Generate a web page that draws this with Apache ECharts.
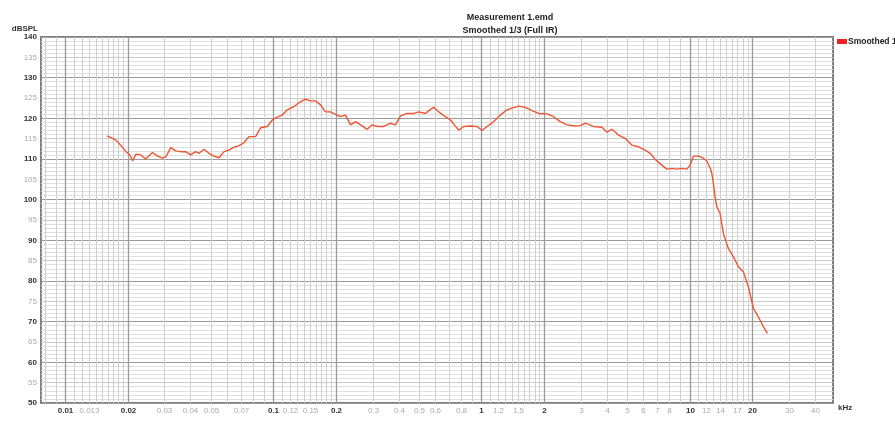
<!DOCTYPE html>
<html><head><meta charset="utf-8">
<script src="https://cdn.jsdelivr.net/npm/echarts@6/dist/echarts.min.js"></script>
<style>html,body{margin:0;padding:0;background:#fff}#c{width:895px;height:421px}</style>
</head><body><div id="c"></div>
<script>
// Frequencies in kHz
const freqs = [0.0159,0.0175,0.0185,0.0196,0.0205,0.0211,0.0219,0.0231,0.0244,0.0263,0.0278,0.0294,0.0305,0.0322,0.0340,0.0359,0.0380,0.0401,0.0424,0.0440,0.0465,0.0491,0.0519,0.0549,0.0580,0.0613,0.0648,0.0685,0.0723,0.0765,0.0823,0.0870,0.0937,0.0990,0.1046,0.1106,0.1168,0.1257,0.1353,0.1430,0.1511,0.1597,0.1688,0.1784,0.1885,0.1992,0.2106,0.2225,0.2351,0.2485,0.2626,0.2828,0.2989,0.3159,0.3397,0.3660,0.3867,0.4087,0.4400,0.4734,0.5003,0.5386,0.5691,0.5904,0.6239,0.6720,0.7098,0.7780,0.8222,0.8856,0.9536,1.008,1.065,1.146,1.234,1.328,1.404,1.510,1.626,1.751,1.884,2.067,2.223,2.393,2.577,2.826,2.985,3.155,3.458,3.795,4.010,4.239,4.558,4.909,5.287,5.686,6.123,6.471,6.839,7.364,7.782,8.225,8.692,9.186,9.706,10.07,10.44,11.03,11.24,11.66,11.88,12.11,12.56,12.79,13.02,13.27,13.52,14.02,14.54,15.37,16.24,17.17,18.14,19.17,20.26,21.41,22.62,23.65];
const spl = [115.7,114.7,113.4,111.8,111.0,109.5,111.2,111.0,110.0,111.6,110.7,110.2,110.6,112.8,112.0,111.8,111.8,111.0,111.8,111.4,112.4,111.4,110.7,110.3,111.8,112.2,112.9,113.3,114.0,115.5,115.5,117.7,118.0,119.6,120.3,120.8,122.1,122.9,124.1,124.7,124.3,124.3,123.3,121.6,121.6,121.0,120.4,120.8,118.4,119.2,118.4,117.3,118.4,118.0,118.0,118.8,118.4,120.6,121.2,121.2,121.6,121.2,122.2,122.7,121.6,120.4,119.6,117.1,118.0,118.1,118.0,117.0,118.0,119.2,120.8,122.1,122.5,123.0,122.7,121.9,121.2,121.1,120.4,119.2,118.4,118.1,118.2,118.8,118.0,117.8,116.6,117.3,115.9,115.1,113.4,113.0,112.2,111.4,109.9,108.5,107.5,107.7,107.5,107.7,107.5,108.5,110.7,110.7,110.4,110.2,109.8,109.5,107.8,106.5,104.0,100.7,98.3,96.6,91.7,88.0,86.0,83.5,82.3,78.6,73.3,71.2,68.8,67.1];

const majorGrid = [0.01,0.02,0.1,0.2,1,2,10,20];
const majorLabels = ['0.01','0.02','0.1','0.2','1','2','10','20'];
const minorGrid = [0.008,0.009,0.011,0.012,0.013,0.014,0.015,0.016,0.017,0.018,0.019,0.03,0.04,0.05,0.06,0.07,0.08,0.09,0.11,0.12,0.13,0.14,0.15,0.16,0.17,0.18,0.19,0.3,0.4,0.5,0.6,0.7,0.8,0.9,1.1,1.2,1.3,1.4,1.5,1.6,1.7,1.8,1.9,3,4,5,6,7,8,9,11,12,13,14,15,16,17,18,19,30,40];
const minorLabels = ['0.013','0.03','0.04','0.05','0.07','0.12','0.15','0.3','0.4','0.5','0.6','0.8','1.2','1.5','3','4','5','6','7','8','12','14','17','30','40'];
const xMin = 0.00766, xMax = 48.9;
const yMin = 50, yMax = 140, yStep = 5;

const FONT = 'Liberation Sans';

const vItems = [];
minorGrid.forEach(f => {
  const s = String(f);
  vItems.push({f: f, major: false, label: minorLabels.indexOf(s) >= 0 ? s : ''});
});
majorGrid.forEach((f, i) => vItems.push({f: f, major: true, label: majorLabels[i]}));

function renderV(params, api) {
  const it = vItems[params.dataIndex];
  const cs = params.coordSys;
  const x = Math.round(api.coord([api.value(0), yMin])[0]) + 0.5;
  const top = cs.y, bottom = cs.y + cs.height;
  const children = [{type:'line', shape:{x1:x, y1:top, x2:x, y2:bottom},
    style:{stroke: it.major ? '#9a9a9a' : '#d0d0d0', lineWidth: it.major ? 1.3 : 1}}];
  if (it.label) {
    children.push({type:'text', style:{text: it.label, x: x, y: bottom + 4, align:'center', verticalAlign:'top',
      fill: it.major ? '#333' : '#aaa', fontSize: 8, fontWeight: it.major ? 'bold' : 'normal', fontFamily: FONT}});
  }
  return {type:'group', children: children};
}

const chart = echarts.init(document.getElementById('c'), null, {renderer:'canvas'});
chart.setOption({
  animation:false,
  backgroundColor:'#fff',
  title:{text:'Measurement 1.emd', subtext:'Smoothed 1/3 (Full IR)', left:505, top:8, textAlign:'center', itemGap:4,
    textStyle:{fontSize:9, fontWeight:'bold', color:'#222', fontFamily:FONT},
    subtextStyle:{fontSize:9, fontWeight:'bold', color:'#222', fontFamily:FONT}},
  legend:{data:['Smoothed 1/3'], left:837, top:37, itemWidth:10, itemHeight:5, itemGap:0, icon:'rect', padding:[0,0,0,0],
    textStyle:{fontSize:8.5, fontWeight:'bold', color:'#222', fontFamily:FONT, padding:[0,0,0,-4], width:80, overflow:'none'}},
  grid:{left:41, right:62, top:37, bottom:18, show:true, borderColor:'#808080', borderWidth:2, backgroundColor:'transparent'},
  xAxis:{type:'log', min:xMin, max:xMax, logBase:10,
    axisLine:{show:false}, axisTick:{show:false}, axisLabel:{show:false}, splitLine:{show:false},
    name:'kHz', nameLocation:'end', nameGap:5,
    nameTextStyle:{fontSize:8, fontWeight:'bold', color:'#333', fontFamily:FONT, verticalAlign:'top', padding:[1,0,0,0]}},
  yAxis:{type:'value', min:yMin, max:yMax, interval:yStep,
    axisLine:{show:false}, axisTick:{show:false},
    axisLabel:{margin:4, fontSize:8, fontFamily:FONT,
      formatter: v => (v % 10 === 0 ? '{a|' + v + '}' : '{b|' + v + '}'),
      rich:{a:{color:'#333', fontWeight:'bold', fontSize:8, fontFamily:FONT}, b:{color:'#aaa', fontSize:8, fontFamily:FONT}}},
    splitLine:{show:true, lineStyle:{color:['#9a9a9a','#cccccc'], width:1}},
    minorTick:{show:false, splitNumber:5},
    minorSplitLine:{show:true, lineStyle:{color:'#e0e0e0', width:1}},
    name:'dBSPL', nameLocation:'end', nameGap:3,
    nameTextStyle:{fontSize:8, fontWeight:'bold', color:'#333', fontFamily:FONT, align:'right', padding:[0,3,0,0]}},
  series:[
    {name:'vgrid', type:'custom', silent:true, z:1, clip:false,
      data: vItems.map(it => [it.f, yMin]), encode:{x:0, y:1}, renderItem: renderV},
    {name:'Smoothed 1/3', type:'line', z:5, showSymbol:false, smooth:false,
      data: freqs.map((f,i)=>[f, spl[i]]),
      lineStyle:{color:'#ee5533', width:1.4}, itemStyle:{color:'#ee2222'}}
  ]
});
</script></body></html>
